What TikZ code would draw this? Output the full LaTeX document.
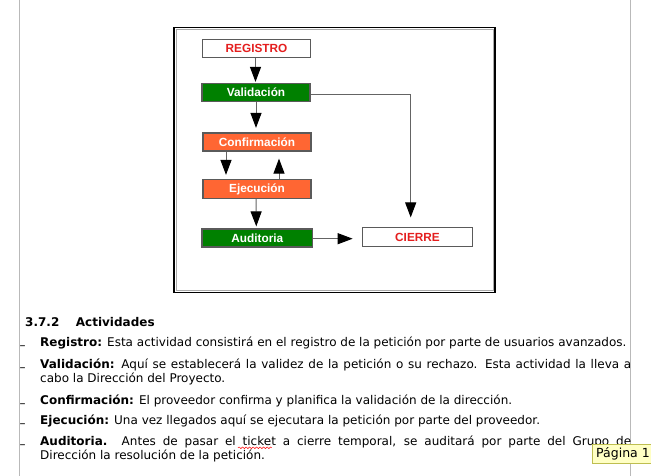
\documentclass[tikz,border=0pt]{standalone}
\usepackage{fontspec}
\setmainfont{DejaVu Sans}
\newfontfamily\diafont{Liberation Sans}
\usetikzlibrary{arrows.meta,decorations.pathmorphing}
\definecolor{dgreen}{RGB}{0,128,0}
\definecolor{dorange}{RGB}{255,102,51}
\definecolor{dred}{RGB}{228,30,30}
\definecolor{boxline}{RGB}{90,90,90}
\definecolor{conn}{RGB}{100,100,100}
\definecolor{tipfill}{RGB}{255,255,196}
\definecolor{tipline}{RGB}{190,190,80}
\tikzset{
  stepbox/.style={draw=boxline, line width=1.2pt, minimum width=108pt, minimum height=18pt,
    inner sep=0pt, font=\diafont\bfseries\fontsize{11.8}{13}\selectfont},
  whitebox/.style={stepbox, fill=white, text=dred},
  greenbox/.style={stepbox, fill=dgreen, text=white},
  orangebox/.style={stepbox, fill=dorange, text=white},
  arr/.style={draw=conn, line width=1pt, -{Triangle[length=15pt,width=11pt,fill=black,color=black]}},
  bodytext/.style={anchor=base west, inner sep=0pt, font=\fontsize{12}{15}\selectfont},
  dashtext/.style={anchor=base west, inner sep=0pt, font=\fontsize{12}{15}\selectfont},
}
\begin{document}
\begin{tikzpicture}[x=1pt,y=-1pt]
\useasboundingbox (0,0) rectangle (651,476);
\fill[white] (0,0) rectangle (651,476);
% page margins
\draw[draw={rgb,255:red,185;green,185;blue,185}, line width=1pt] (19.5,0) -- (19.5,476);
\draw[draw={rgb,255:red,185;green,185;blue,185}, line width=1pt] (630.7,0) -- (630.7,476);
% frame
\draw[black, line width=1.3pt] (174,27.3) rectangle (495,292.7);
\draw[draw={rgb,255:red,170;green,170;blue,170}, line width=0.6pt] (176,29.3) rectangle (493,290.7);
% boxes
\node[whitebox] (reg) at (256.5,48.5) {REGISTRO};
\node[greenbox] (val) at (256,92.5) {Validación};
\node[orangebox] (con) at (257,142) {Confirmación};
\node[orangebox, minimum height=19pt] (eje) at (257,189) {Ejecución};
\node[greenbox, minimum width=110.5pt] (aud) at (257.3,238) {Auditoria};
\node[whitebox, minimum width=109.5pt, minimum height=18.5pt] (cie) at (417.5,237) {CIERRE};
\coordinate (audcie) at ([yshift=-0.7pt]aud.east -| cie.west);
% connectors
\draw[arr, shorten >=1pt] ([xshift=-1pt]reg.south) -- ([xshift=-0.5pt]val.north);
\draw[arr, shorten >=4.5pt] (val.south) -- ([xshift=-1pt]con.north);
\draw[arr, shorten >=4pt] ([xshift=-31pt]con.south) -- ([xshift=-31pt]eje.north);
\draw[arr, shorten >=7pt] ([xshift=22pt]eje.north) -- ([xshift=22pt]con.south);
\draw[arr, shorten >=2pt] ([xshift=-1pt]eje.south) -- ([xshift=-1pt]aud.north);
\draw[arr, shorten >=9.5pt] ([yshift=-0.7pt]aud.east) -- (audcie);
\draw[arr, shorten >=9.7pt] ([yshift=-2.5pt]val.east) -| ([xshift=-6.8pt]cie.north);
% text section
\node[anchor=base west, inner sep=0pt, font=\bfseries\fontsize{12}{15}\selectfont] (h1) at (25,326) {3.7.2};
\node[anchor=base west, inner sep=0pt, font=\bfseries\fontsize{12}{15}\selectfont] (h2) at (75.7,326) {Actividades};
\foreach \yy in {346.7,368.3,404,424,445.7} {
  \node[dashtext] at (19.5,\yy+3) {–};
}
\node[bodytext] (t1) at (40,346.7) {\textbf{Registro:} Esta actividad consistirá en el registro de la petición por parte de usuarios avanzados.};
\node[bodytext] (t2) at (40,368.3) {\makebox[591pt][s]{\textbf{Validación:} Aquí se establecerá la validez de la petición o su rechazo. Esta actividad la lleva a}};
\node[bodytext] (t3) at (40,382.7) {cabo la Dirección del Proyecto.};
\node[bodytext] (t4) at (40,404) {\textbf{Confirmación:} El proveedor confirma y planifica la validación de la dirección.};
\node[bodytext] (t5) at (40,424) {\textbf{Ejecución:} Una vez llegados aquí se ejecutara la petición por parte del proveedor.};
\node[bodytext] (t6) at (40,445.7) {\makebox[591pt][s]{\textbf{Auditoria.} Antes de pasar el ticket a cierre temporal, se auditará por parte del Grupo de}};
\node[bodytext] (t7) at (40,459.3) {Dirección la resolución de la petición.};
% spell-check underline
\draw[red, line width=0.5pt, decorate, decoration={snake, amplitude=0.8pt, segment length=3.5pt}] (238,447.8) -- (271.7,447.8);
% tooltip
\node[draw=tipline, fill=tipfill, line width=0.8pt, anchor=north west, minimum width=70pt, minimum height=19.3pt, inner sep=0pt] (tip) at (592.3,444) {};
\node[anchor=base west, inner sep=0pt, font=\fontsize{12.5}{15}\selectfont] (tiptext) at (596,457.7) {Página 1};
\end{tikzpicture}
\end{document}
